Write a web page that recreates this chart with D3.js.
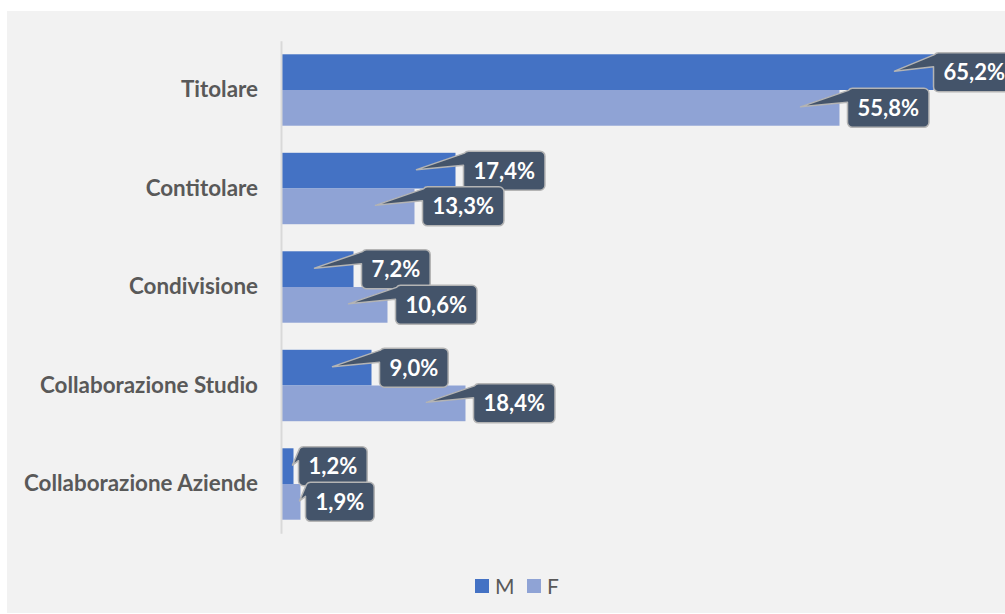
<!DOCTYPE html>
<html>
<head>
<meta charset="utf-8">
<script src="https://cdn.jsdelivr.net/npm/d3@7"></script>
<style>
  html, body { margin: 0; padding: 0; background: #ffffff; }
  svg { display: block; }
</style>
</head>
<body>
<svg id="chart" width="1005" height="614"></svg>
<script>
const categories = ["Titolare", "Contitolare", "Condivisione", "Collaborazione Studio", "Collaborazione Aziende"];
const seriesNames = ["M", "F"];
const valuesM = [65.2, 17.4, 7.2, 9.0, 1.2];
const valuesF = [55.8, 13.3, 10.6, 18.4, 1.9];
const seriesColors = ["#4472C4", "#8FA3D5"];

const svg = d3.select("#chart");
const W = 1005, H = 614;
const chartRight = 1015;

// panel background
svg.append("rect").attr("x", 7).attr("y", 11).attr("width", W - 7).attr("height", 602).attr("fill", "#F2F2F2");

const x = d3.scaleLinear().domain([0, 70]).range([281.5, 981.5]);
const y = d3.scaleBand().domain(categories).range([40.75, 533.25]).paddingInner(0.275).paddingOuter(0.1375);
const ySub = d3.scaleBand().domain(seriesNames).range([0, y.bandwidth()]);

const data = [];
seriesNames.forEach((s, si) => {
  const vals = si === 0 ? valuesM : valuesF;
  categories.forEach((c, ci) => data.push({ s, si, c, v: vals[ci] }));
});

// bars
svg.append("g").selectAll("rect").data(data).join("rect")
  .attr("x", x(0))
  .attr("y", d => y(d.c) + ySub(d.s))
  .attr("width", d => x(d.v) - x(0))
  .attr("height", ySub.bandwidth())
  .attr("fill", d => seriesColors[d.si]);

// axis line
const yAxis = d3.axisLeft(y).tickSize(0).tickPadding(23);
const gy = svg.append("g").attr("transform", `translate(${x(0) - 0.5},0)`).call(yAxis);
gy.select(".domain").attr("stroke", "#D9D9D9").attr("stroke-width", 2);
gy.selectAll("text")
  .attr("fill", "#595959")
  .attr("font-family", "Lato, 'Open Sans', sans-serif")
  .attr("font-weight", "bold")
  .attr("font-size", "22.4px");

// callouts
const fmt = v => v.toFixed(1).replace(".", ",") + "%";
const lg = svg.append("g");
data.forEach(d => {
  const end = x(d.v);
  const w = end - x(0);
  const cy = y(d.c) + ySub(d.s) + ySub.bandwidth() / 2;
  const tipX = w > 45 ? end - 39 : end - 1;
  const g = lg.append("g");
  const path = g.append("path");
  const t = g.append("text")
    .text(fmt(d.v))
    .attr("fill", "#ffffff")
    .attr("font-family", "Lato, 'Open Sans', sans-serif")
    .attr("font-weight", "bold")
    .attr("font-size", "22px")
    .attr("text-anchor", "middle")
    .attr("dy", "0.36em");
  const tw = t.node().getComputedTextLength();
  const bw = tw + 20, bh = 39, r = 5;
  const L = Math.min(w > 45 ? end + 8 : end + 5, chartRight - bw), T = cy - bh / 2, R = L + bw, B = T + bh;
  t.attr("x", L + bw / 2).attr("y", cy);
  const p = `M${L + r},${T} H${R - r} A${r},${r} 0 0 1 ${R},${T + r} V${B - r} A${r},${r} 0 0 1 ${R - r},${B} H${L + r} A${r},${r} 0 0 1 ${L},${B - r} V${T + 14} L${tipX},${cy - 1} L${L + 1},${T + 2} A${r},${r} 0 0 1 ${L + r},${T} Z`;
  path.attr("d", p).attr("fill", "#44546A").attr("stroke", "#B4B4B4").attr("stroke-width", 1.5).attr("stroke-linejoin", "round");
});

// legend
const leg = svg.append("g");
const legX = [475, 527];
seriesNames.forEach((s, i) => {
  leg.append("rect").attr("x", legX[i]).attr("y", 579).attr("width", 14).attr("height", 14).attr("fill", seriesColors[i]);
  leg.append("text").attr("x", legX[i] + 20).attr("y", 586).attr("dy", "0.36em")
    .text(s).attr("fill", "#595959")
    .attr("font-family", "Lato, 'Open Sans', sans-serif")
    .attr("font-size", "21px");
});
</script>
</body>
</html>
